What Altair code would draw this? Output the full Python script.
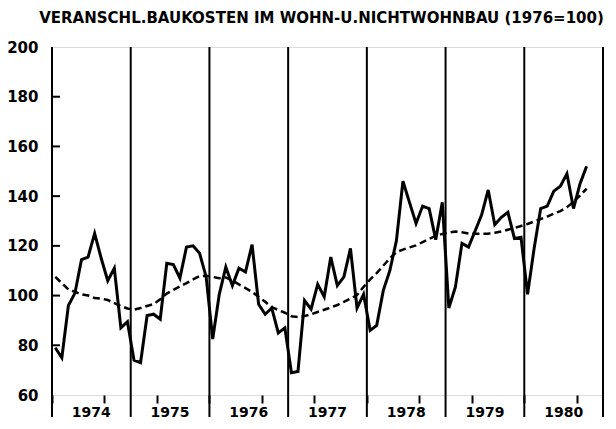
import altair as alt
import pandas as pd

title_text = "VERANSCHL.BAUKOSTEN IM WOHN-U.NICHTWOHNBAU (1976=100)"

years = [1974, 1975, 1976, 1977, 1978, 1979, 1980]

# monthly values Jan 1974 .. Oct 1980
series = [
    79, 75, 96, 101, 114.5, 115.5, 125, 115, 106, 111, 87, 89.5,
    74, 73, 92, 92.5, 90.5, 113, 112.5, 107, 119.5, 120, 117, 107.5,
    82.5, 100.5, 111.5, 104, 111, 109.5, 120.5, 96.5, 92.5, 95, 85, 87,
    69, 69.5, 98, 94.5, 104.5, 99.5, 115.5, 104, 107.5, 119, 95, 100.5,
    86, 88, 102, 110, 122, 146, 137.5, 129, 136, 135, 122.5, 137.5,
    95, 103.5, 121, 119.5, 126, 132.5, 142.5, 128.5, 131.5, 133.5, 123, 123.5,
    100.5, 119, 135, 136, 142, 144, 149, 135, 145, 152,
]

trend = [
    107.5, 105, 102.5, 101.5, 100.5, 100, 99, 98.8, 98.2, 97, 95.8, 94.8,
    94.3, 95, 95.8, 96.6, 98.5, 100.8, 102.3, 103.7, 105, 106.5, 107.8, 108,
    107.5, 107, 107.3, 106, 104.5, 103, 101.5, 99.5, 97.5, 95.3, 94.2, 93.1,
    91.7, 91.4, 91.8, 92.5, 93.4, 94.3, 95.2, 96.2, 97.5, 98.8, 100.2, 103.5,
    106.5, 109, 112, 115, 117.5, 118.5, 119.4, 120.2, 121.5, 122.8, 124, 124.8,
    125.4, 125.8, 125.5, 125, 124.9, 124.9, 124.9, 125.3, 125.8, 126.5, 127.2, 128,
    128.8, 129.8, 130.8, 131.8, 133, 134, 135.5, 137.8, 140.2, 143,
]

y_ticks = [60, 80, 100, 120, 140, 160, 180, 200]
inner_ticks = [80, 100, 120, 140, 160, 180]

W, H = 551, 348
FONT = "DejaVu Sans"

df = pd.DataFrame({
    "t": [i + 0.5 for i in range(len(series))],
    "value": series,
    "trend": trend,
})
year_df = pd.DataFrame({"year": [str(y) for y in years],
                        "mid": [i * 12 + 6 for i in range(len(years))]})
bound_df = pd.DataFrame({"b": [i * 12 for i in range(len(years) + 1)]})
ytick_df = pd.DataFrame({"v": inner_ticks})

xscale = alt.Scale(domain=[0, 84], nice=False, zero=False)
yscale = alt.Scale(domain=[60, 200], nice=False, zero=False)

xaxis = alt.Axis(values=list(range(85)), labels=False, tickSize=8, tickWidth=2,
                 tickColor="black", domain=False, grid=False, title=None)
yaxis = alt.Axis(values=y_ticks, ticks=False, domain=False, grid=False, title=None,
                 labelFont=FONT, labelFontSize=15, labelFontWeight="bold",
                 labelColor="black", labelPadding=14)

base = alt.Chart(df)

line = base.mark_line(color="black", strokeWidth=3).encode(
    x=alt.X("t:Q", scale=xscale, axis=xaxis),
    y=alt.Y("value:Q", scale=yscale, axis=yaxis),
)

dashed = base.mark_line(color="black", strokeWidth=2.5, strokeDash=[7, 4]).encode(
    x=alt.X("t:Q", scale=xscale),
    y=alt.Y("trend:Q", scale=yscale),
)

year_lines = alt.Chart(bound_df).mark_rule(color="black", strokeWidth=2).encode(
    x=alt.X("b:Q", scale=xscale),
    y=alt.value(0),
    y2=alt.value(H + 22),
)

inner = alt.Chart(ytick_df).mark_rule(color="black", strokeWidth=2).encode(
    y=alt.Y("v:Q", scale=yscale),
    x=alt.value(0),
    x2=alt.value(8),
)

year_labels = alt.Chart(year_df).mark_text(
    font=FONT, fontSize=14, fontWeight="bold", color="black", baseline="middle"
).encode(
    x=alt.X("mid:Q", scale=xscale),
    y=alt.value(H + 18),
    text="year:N",
)

chart = alt.layer(year_lines, inner, dashed, line, year_labels).properties(
    width=W,
    height=H,
    autosize=alt.AutoSizeParams(type="none"),
    padding={"left": 44, "top": 39, "right": 5, "bottom": 26},
    title=alt.TitleParams(text=title_text, font=FONT, fontSize=15, fontWeight="bold",
                          color="black", anchor="middle", offset=14, dx=-6),
).configure_view(stroke="black", strokeWidth=2).configure(background="white")

chart.save("out.html", embed_options={"renderer": "svg", "actions": False})
